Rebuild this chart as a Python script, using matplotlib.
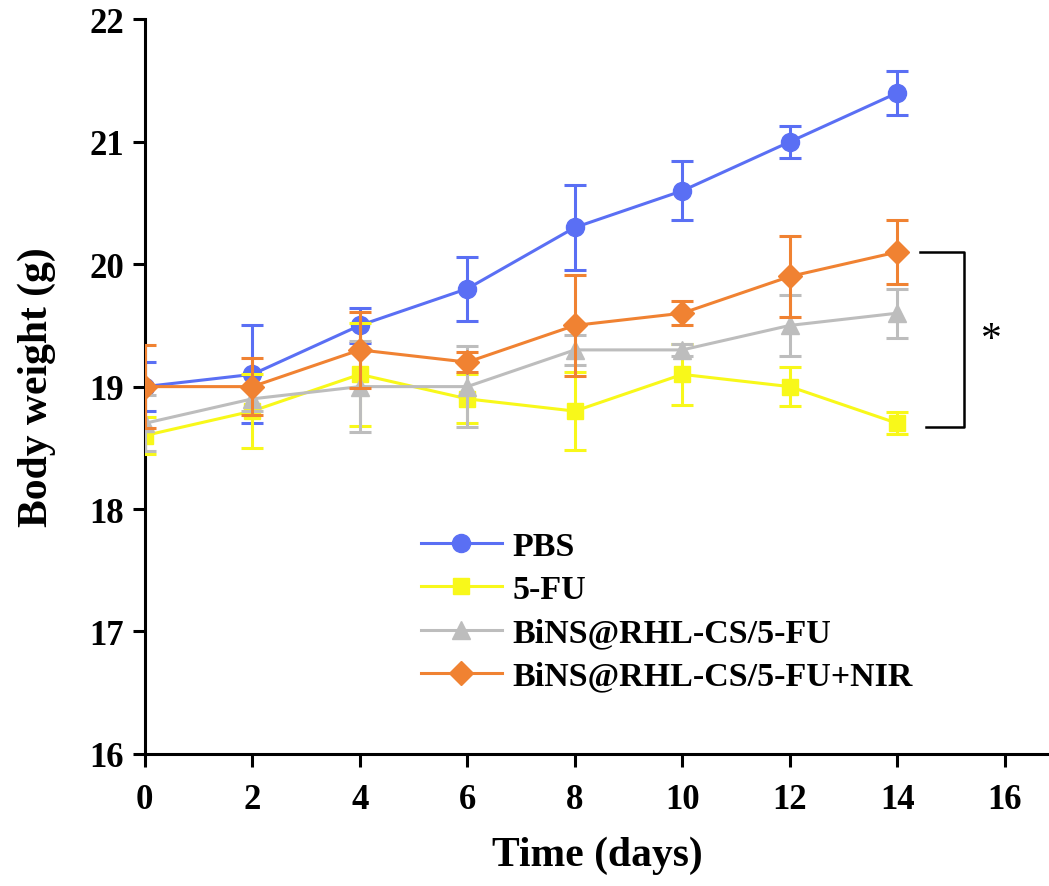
import numpy as np
import matplotlib
matplotlib.use('Agg')
import matplotlib.pyplot as plt

plt.rcParams['font.family'] = ['Liberation Serif', 'DejaVu Serif']
plt.rcParams['font.weight'] = 'bold'

days = [0, 2, 4, 6, 8, 10, 12, 14]

pbs = [19.0, 19.1, 19.5, 19.8, 20.3, 20.6, 21.0, 21.4]
pbs_err = [0.2, 0.4, 0.14, 0.26, 0.35, 0.24, 0.13, 0.18]

fu = [18.6, 18.8, 19.1, 18.9, 18.8, 19.1, 19.0, 18.7]
fu_err = [0.15, 0.3, 0.42, 0.2, 0.32, 0.25, 0.16, 0.09]

bins = [18.7, 18.9, 19.0, 19.0, 19.3, 19.3, 19.5, 19.6]
bins_err = [0.23, 0.1, 0.37, 0.33, 0.12, 0.05, 0.25, 0.2]

nir = [19.0, 19.0, 19.3, 19.2, 19.5, 19.6, 19.9, 20.1]
nir_err = [0.34, 0.23, 0.31, 0.08, 0.41, 0.1, 0.33, 0.26]

labels = ['PBS', '5-FU', 'BiNS@RHL-CS/5-FU', 'BiNS@RHL-CS/5-FU+NIR']
colors = ['#5a6ff4', '#f8f81a', '#bdbdbd', '#f08232']
markers = ['o', 's', '^', 'D']
msizes = [13, 12, 13, 12]

fig = plt.figure(figsize=(10.49, 8.87), dpi=100)
ax = fig.add_axes([0.138, 0.149, 0.862, 0.828])

series = [(pbs, pbs_err), (fu, fu_err), (bins, bins_err), (nir, nir_err)]
for i, (vals, errs) in enumerate(series):
    ax.errorbar(days, vals, yerr=errs, fmt='none', ecolor=colors[i],
                elinewidth=2.2, capsize=8, capthick=2.2, zorder=2 + i)
    ax.plot(days, vals, color=colors[i], marker=markers[i], markersize=msizes[i],
            linewidth=2.2, label=labels[i], zorder=3 + i)

# significance bracket between NIR and 5-FU at the last day
y_top = nir[-1]
y_bot = fu[-1] - 0.03
ax.plot([14.42, 15.24, 15.24, 14.53], [y_top, y_top, y_bot, y_bot],
        color='black', linewidth=1.8, clip_on=False)
ax.text(15.74, (y_top + y_bot) / 2 + 0.0, '*', fontsize=30, fontweight='normal',
        ha='center', va='center')

ax.set_xlim(0, 16.82)
ax.set_ylim(16, 22)
ax.set_xticks(range(0, 17, 2))
ax.set_yticks(range(16, 23))

ax.spines['top'].set_visible(False)
ax.spines['right'].set_visible(False)
for s in ['left', 'bottom']:
    ax.spines[s].set_linewidth(2.2)
ax.tick_params(direction='out', length=9, width=2.2, labelsize=25)
ax.tick_params(axis='x', pad=12)
ax.tick_params(axis='y', pad=6)
for lab in ax.get_xticklabels() + ax.get_yticklabels():
    lab.set_fontweight('bold')

ax.set_xlabel('Time (days)', fontsize=30, fontweight='bold', labelpad=14)
ax.set_ylabel('Body weight (g)', fontsize=30, fontweight='bold', labelpad=24)

ax.legend(loc='upper left', bbox_to_anchor=(0.29, 0.322), frameon=False,
          fontsize=24.5, handlelength=2.4, handletextpad=0.3, labelspacing=0.36,
          borderaxespad=0)

fig.savefig('out.png', dpi=100)
